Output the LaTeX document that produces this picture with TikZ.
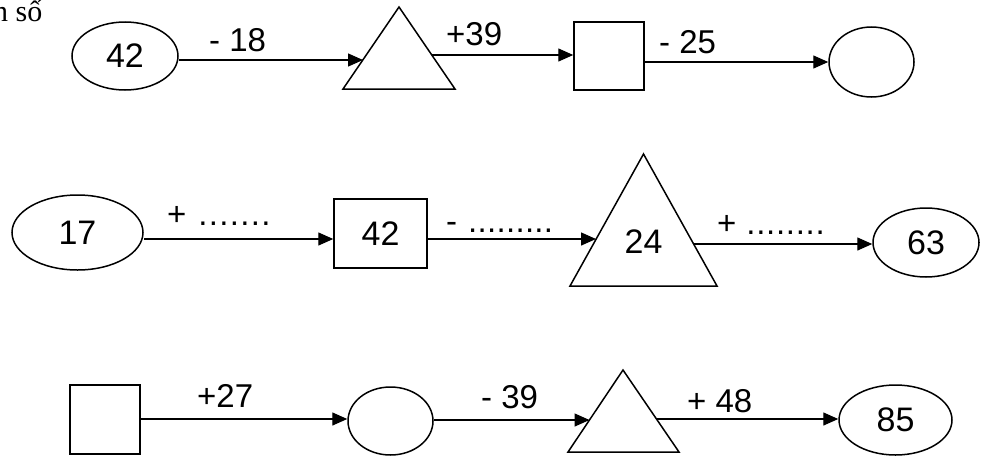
\documentclass[tikz,border=0pt]{standalone}
\usepackage{fontspec}
\setmainfont{Liberation Sans}
\newfontfamily\serifvn{Liberation Serif}
\usetikzlibrary{arrows.meta,shapes.geometric}
\newcommand\dd[1]{.\kern#1}
\begin{document}
\begin{tikzpicture}[x=1pt,y=-1pt,
  shapeline/.style={draw,line width=1.5pt},
  oval/.style={shapeline,ellipse,inner sep=0pt,font=\fontsize{34}{38}\selectfont},
  box/.style={shapeline,rectangle,inner sep=0pt,font=\fontsize{34}{38}\selectfont},
  arr/.style={line width=1.4pt,-{Triangle[length=15pt,width=13pt]}},
  lbl/.style={anchor=base west,inner sep=0pt,font=\fontsize{33}{36}\selectfont},
  num/.style={inner sep=0pt,font=\fontsize{34}{38}\selectfont}]
\useasboundingbox (0,0) rectangle (981,455);

% heading fragment
\node[anchor=base west,inner sep=0pt,font=\serifvn\fontsize{30}{34}\selectfont] (head) at (-7,21) {n số};

% ---------- row 1 ----------
\node[oval,minimum width=106pt,minimum height=68pt] (e1) at (125,56) {42};
\coordinate (t1a) at (343,89);
\coordinate (t1b) at (399,7);
\coordinate (t1c) at (455,89);
\draw[shapeline] (t1a) -- (t1b) -- (t1c) -- cycle;
\coordinate (t1l) at (363,60);
\coordinate (t1r) at (432,55);
\node[box,minimum width=70pt,minimum height=68pt] (sq1) at (609,56) {};
\node[oval,minimum width=85pt,minimum height=70pt] (e2) at (871.5,62) {};

\draw[arr] (e1.east |- t1l) -- (t1l);
\draw[arr] (t1r) -- (sq1.west |- t1r);
\draw[arr] (sq1.east |- e2.west) -- (e2.west);

\node[lbl] (l11) at (209,51) {- 18};
\node[lbl] (l12) at (446,45) {+39};
\node[lbl] (l13) at (659,53) {- 25};

% ---------- row 2 ----------
\node[oval,minimum width=131pt,minimum height=75pt] (e3) at (77.5,232.5) {17};
\node[box,minimum width=93pt,minimum height=69pt] (sq2) at (380.5,233.5) {42};
\coordinate (r2y) at (0,239);
\coordinate (t2a) at (570,286);
\coordinate (t2b) at (643.5,154);
\coordinate (t2c) at (717,286);
\draw[shapeline] (t2a) -- (t2b) -- (t2c) -- cycle;
\node[num] (t2txt) at (643.5,242) {24};
\coordinate (t2l) at (596,239);
\coordinate (t2r) at (693.6,244);
\node[oval,minimum width=106pt,minimum height=69pt] (e4) at (926,242.5) {63};

\draw[arr] (e3.east |- r2y) -- (sq2.west |- r2y);
\draw[arr] (sq2.east |- t2l) -- (t2l);
\draw[arr] (t2r) -- (e4.west |- t2r);

\node[lbl] (l21) at (167,225) {+\kern12pt\dd{1.3pt}\dd{1.3pt}\dd{1.3pt}\dd{1.3pt}\dd{1.3pt}\dd{1.3pt}.};
\node[lbl] (l22) at (446,232) {-\kern11pt\dd{0.3pt}\dd{0.3pt}\dd{0.3pt}\dd{0.3pt}\dd{0.3pt}\dd{0.3pt}\dd{0.3pt}\dd{0.3pt}.};
\node[lbl] (l23) at (717,234) {+\kern10pt\dd{0.7pt}\dd{0.7pt}\dd{0.7pt}\dd{0.7pt}\dd{0.7pt}\dd{0.7pt}\dd{0.7pt}.};

% ---------- row 3 ----------
\node[box,minimum width=70pt,minimum height=69pt] (sq3) at (105,419.5) {};
\coordinate (r3y) at (0,419);
\node[oval,minimum width=85pt,minimum height=68pt] (e5) at (390.5,421) {};
\coordinate (t3a) at (568,452);
\coordinate (t3b) at (623,370);
\coordinate (t3c) at (679,452);
\draw[shapeline] (t3a) -- (t3b) -- (t3c) -- cycle;
\coordinate (t3l) at (589.5,420);
\coordinate (t3r) at (656.5,419);
\node[oval,minimum width=113pt,minimum height=70pt] (e6) at (895.5,420) {85};

\draw[arr] (sq3.east |- r3y) -- (e5.west |- r3y);
\draw[arr] (e5.east |- t3l) -- (t3l);
\draw[arr] (t3r) -- (e6.west |- t3r);

\node[lbl] (l31) at (197,407) {+27};
\node[lbl] (l32) at (481,408) {- 39};
\node[lbl] (l33) at (687,412) {+ 48};
\end{tikzpicture}
\end{document}
